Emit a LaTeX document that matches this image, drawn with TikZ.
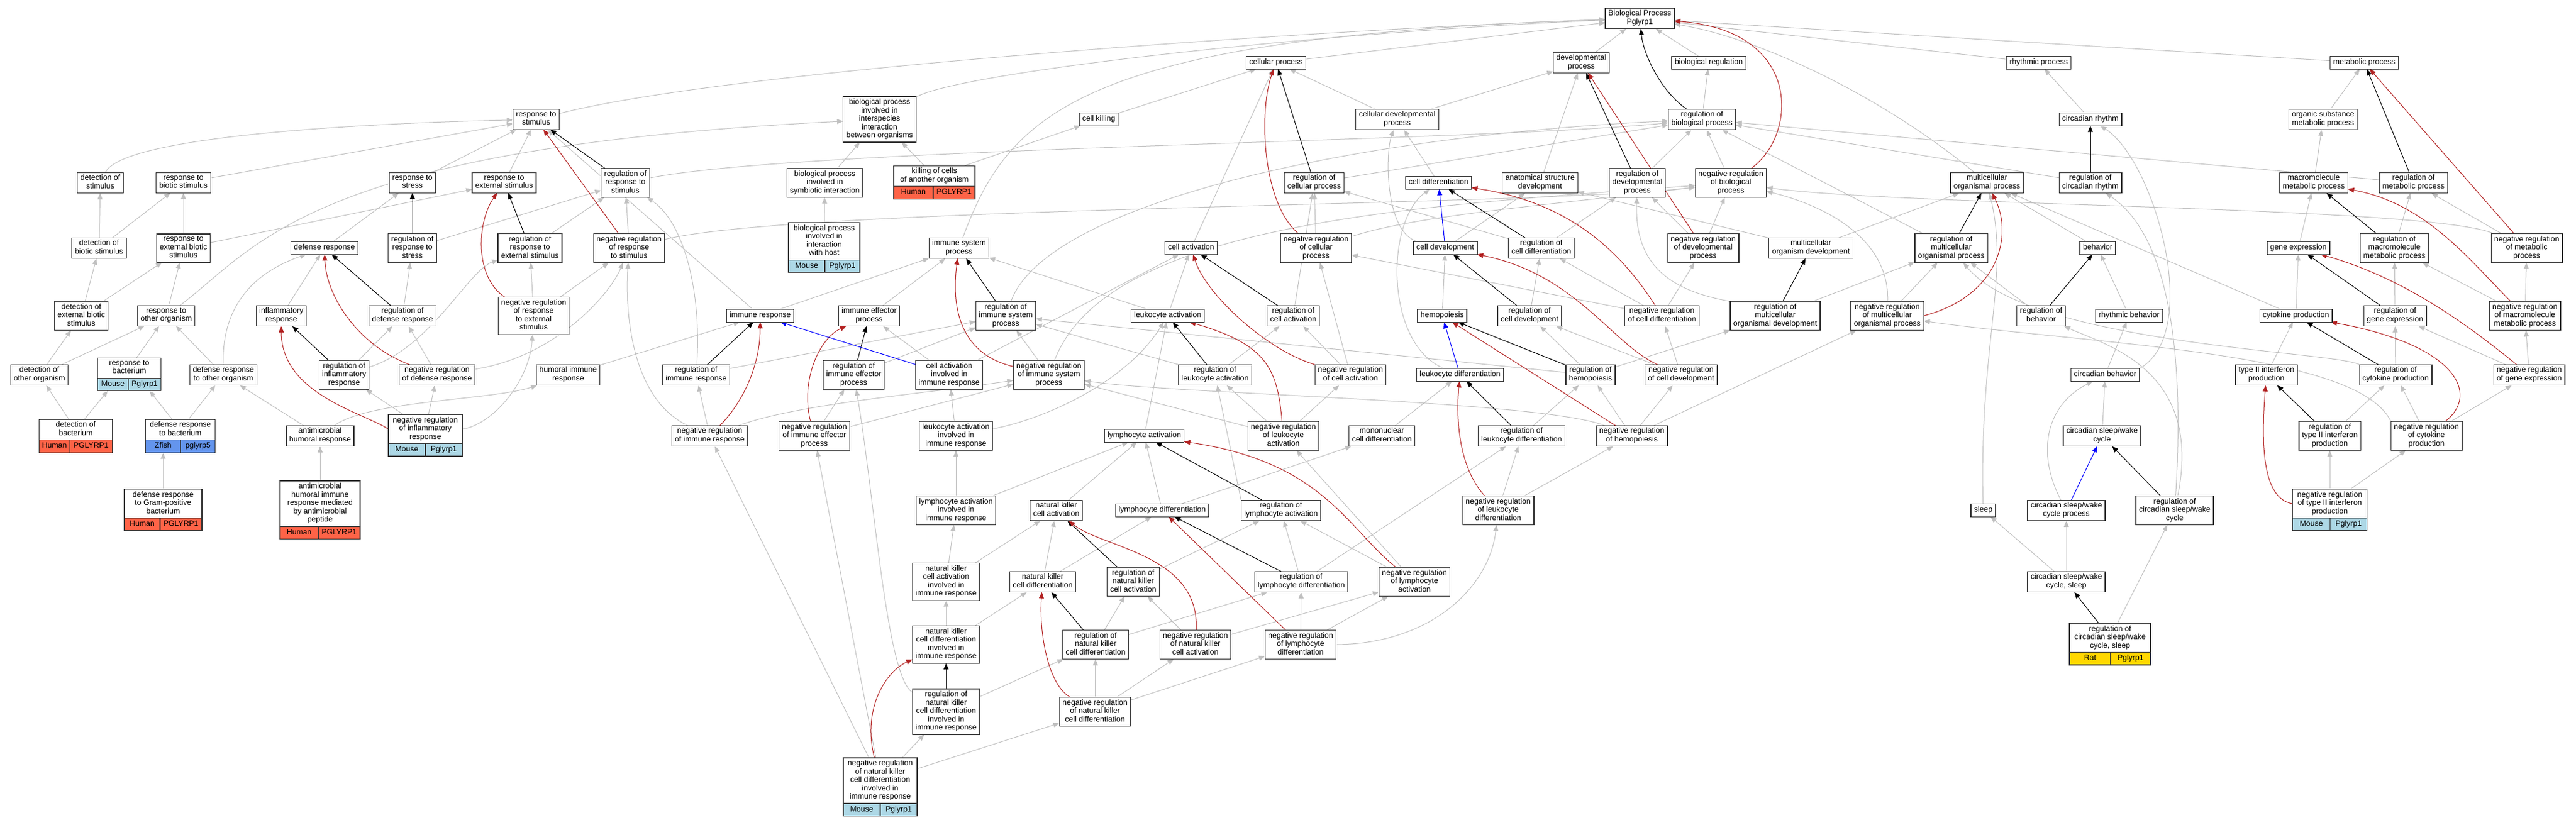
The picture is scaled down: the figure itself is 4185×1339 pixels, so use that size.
\documentclass[tikz,border=0pt]{standalone}
\usepackage{fontspec}
\setmainfont{Liberation Sans}
\usetikzlibrary{arrows.meta}
\pgfdeclarelayer{edgelayer}
\pgfsetlayers{edgelayer,main}
\definecolor{isagrey}{RGB}{192,192,192}
\definecolor{negred}{RGB}{178,34,34}
\definecolor{partblue}{RGB}{0,0,255}
\definecolor{human}{RGB}{255,99,71}
\definecolor{mouse}{RGB}{173,216,230}
\definecolor{zfish}{RGB}{100,149,237}
\definecolor{rat}{RGB}{255,215,0}

\begin{document}
\begin{tikzpicture}
        [
          x=1pt, y=-1pt,
          term/.style={draw=black!80, line width=1.3pt, fill=white, align=center,
            inner xsep=5pt, inner ysep=3.5pt, outer sep=0pt,
            font=\fontsize{12.5}{13.5}\selectfont,
            execute at begin node=\strut, execute at end node=\strut},
          cell/.style={term, inner xsep=3pt},
          isa/.style={draw=isagrey, line width=1pt, -{Triangle[length=10pt,width=8pt]}},
          regs/.style={isa, draw=black},
          negregs/.style={isa, draw=negred},
          partof/.style={isa, draw=partblue}
        ]
        \useasboundingbox (0,0) rectangle (4185,1339);
        % rank 1
        \node [term] (bp) at (2664,30) {Biological Process\\Pglyrp1};
        % rank 2
        \node [term] (cp) at (2073,102) {cellular process};
        \node [term] (dp) at (2569,102) {developmental\\process};
        \node [term] (breg) at (2776,102) {biological regulation};
        \node [term] (rp) at (3312,102) {rhythmic process};
        \node [term] (mp) at (3841,102) {metabolic process};
        % rank 3
        \node [term] (rs) at (871,194) {response to\\stimulus};
        \node [term] (bpii) at (1429,194) {biological process\\involved in\\interspecies\\interaction\\between organisms};
        \node [term] (ck) at (1785,194) {cell killing};
        \node [term] (cdp) at (2270,194) {cellular developmental\\process};
        \node [term] (rbp) at (2765,194) {regulation of\\biological process};
        \node [term] (cr) at (3396,194) {circadian rhythm};
        \node [term] (osmp) at (3774,194) {organic substance\\metabolic process};
        % rank 4
        \node [term] (ds) at (163,297) {detection of\\stimulus};
        \node [term] (rbs) at (298,297) {response to\\biotic stimulus};
        \node [term] (rstr) at (670,297) {response to\\stress};
        \node [term] (res) at (819,297) {response to\\external stimulus};
        \node [term] (rrs) at (1016,297) {regulation of\\response to\\stimulus};
        \node [term] (bpsi) at (1340,297) {biological process\\involved in\\symbiotic interaction};
        \node [term, minimum width=132] (kcao) at (1518,286) {killing of cells\\of another organism};
        \node [term] (rcp) at (2135,297) {regulation of\\cellular process};
        \node [term] (cd) at (2337,297) {cell differentiation};
        \node [term] (asd) at (2502,297) {anatomical structure\\development};
        \node [term] (rdp) at (2660,297) {regulation of\\developmental\\process};
        \node [term] (nrbp) at (2812,297) {negative regulation\\of biological\\process};
        \node [term] (mop) at (3228,297) {multicellular\\organismal process};
        \node [term] (rcr) at (3396,297) {regulation of\\circadian rhythm};
        \node [term] (mmp) at (3759,297) {macromolecule\\metabolic process};
        \node [term] (rmp) at (3921,297) {regulation of\\metabolic process};
        % rank 5
        \node [term] (dbs) at (161,403) {detection of\\biotic stimulus};
        \node [term] (rebs) at (298,403) {response to\\external biotic\\stimulus};
        \node [term] (dr) at (527,403) {defense response};
        \node [term] (rrstr) at (670,403) {regulation of\\response to\\stress};
        \node [term] (rres) at (861,403) {regulation of\\response to\\external stimulus};
        \node [term] (nrrs) at (1022,403) {negative regulation\\of response\\to stimulus};
        \node [term, minimum width=116] (bpih) at (1339,392) {biological process\\involved in\\interaction\\with host};
        \node [term] (isp) at (1558,403) {immune system\\process};
        \node [term] (ca) at (1935,403) {cell activation};
        \node [term] (nrcp) at (2138,403) {negative regulation\\of cellular\\process};
        \node [term] (cdev) at (2348,403) {cell development};
        \node [term] (rcd) at (2504,403) {regulation of\\cell differentiation};
        \node [term] (nrdp) at (2767,403) {negative regulation\\of developmental\\process};
        \node [term] (mod) at (2942,403) {multicellular\\organism development};
        \node [term] (rmop) at (3170,403) {regulation of\\multicellular\\organismal process};
        \node [term] (beh) at (3408,403) {behavior};
        \node [term] (ge) at (3734,403) {gene expression};
        \node [term] (rmmp) at (3890,403) {regulation of\\macromolecule\\metabolic process};
        \node [term] (nrmp) at (4105,403) {negative regulation\\of metabolic\\process};
        % rank 6
        \node [term] (debs) at (132,513) {detection of\\external biotic\\stimulus};
        \node [term] (roo) at (270,513) {response to\\other organism};
        \node [term] (ir) at (457,513) {inflammatory\\response};
        \node [term] (rdr) at (654,513) {regulation of\\defense response};
        \node [term] (nrres) at (867,513) {negative regulation\\of response\\to external\\stimulus};
        \node [term] (imr) at (1235,513) {immune response};
        \node [term] (iep) at (1412,513) {immune effector\\process};
        \node [term] (risp) at (1634,513) {regulation of\\immune system\\process};
        \node [term] (la) at (1897,513) {leukocyte activation};
        \node [term] (rca) at (2101,513) {regulation of\\cell activation};
        \node [term] (hem) at (2343,513) {hemopoiesis};
        \node [term] (rcdev) at (2485,513) {regulation of\\cell development};
        \node [term] (nrcd) at (2700,513) {negative regulation\\of cell differentiation};
        \node [term] (rmod) at (2884,513) {regulation of\\multicellular\\organismal development};
        \node [term] (nrmop) at (3066,513) {negative regulation\\of multicellular\\organismal process};
        \node [term] (rbeh) at (3316,513) {regulation of\\behavior};
        \node [term] (rbehv) at (3459,513) {rhythmic behavior};
        \node [term] (cyp) at (3730,513) {cytokine production};
        \node [term] (rge) at (3891,513) {regulation of\\gene expression};
        \node [term] (nrmmp) at (4102,513) {negative regulation\\of macromolecule\\metabolic process};
        % rank 7
        \node [term] (doo) at (64,609) {detection of\\other organism};
        \node [term, minimum width=103] (rbact) at (210,598) {response to\\bacterium};
        \node [term] (droo) at (363,609) {defense response\\to other organism};
        \node [term] (rir) at (559,609) {regulation of\\inflammatory\\response};
        \node [term] (nrdr) at (710,609) {negative regulation\\of defense response};
        \node [term] (hir) at (923,609) {humoral immune\\response};
        \node [term] (rimr) at (1131,609) {regulation of\\immune response};
        \node [term] (riep) at (1387,609) {regulation of\\immune effector\\process};
        \node [term] (caiir) at (1542,609) {cell activation\\involved in\\immune response};
        \node [term] (nrisp) at (1704,609) {negative regulation\\of immune system\\process};
        \node [term] (rla) at (1974,609) {regulation of\\leukocyte activation};
        \node [term] (nrca) at (2194,609) {negative regulation\\of cell activation};
        \node [term] (ld) at (2372,609) {leukocyte differentiation};
        \node [term] (rhem) at (2584,609) {regulation of\\hemopoiesis};
        \node [term] (nrcdev) at (2731,609) {negative regulation\\of cell development};
        \node [term] (cbeh) at (3420,609) {circadian behavior};
        \node [term] (t2ip) at (3682,609) {type II interferon\\production};
        \node [term] (rcyp) at (3892,609) {regulation of\\cytokine production};
        \node [term] (nrge) at (4109,609) {negative regulation\\of gene expression};
        % rank 8
        \node [term, minimum width=119] (dbact) at (123,698) {detection of\\bacterium};
        \node [term, minimum width=113] (drbact) at (293,698) {defense response\\to bacterium};
        \node [term] (ahr) at (520,708) {antimicrobial\\humoral response};
        \node [term, minimum width=120] (nrir) at (691,697) {negative regulation\\of inflammatory\\response};
        \node [term] (nrimr) at (1153,708) {negative regulation\\of immune response};
        \node [term] (nriep) at (1323,708) {negative regulation\\of immune effector\\process};
        \node [term] (laiir) at (1553,708) {leukocyte activation\\involved in\\immune response};
        \node [term] (lya) at (1859,708) {lymphocyte activation};
        \node [term] (nrla) at (2085,708) {negative regulation\\of leukocyte\\activation};
        \node [term] (mcd) at (2245,708) {mononuclear\\cell differentiation};
        \node [term] (rld) at (2472,708) {regulation of\\leukocyte differentiation};
        \node [term] (nrhem) at (2651,708) {negative regulation\\of hemopoiesis};
        \node [term] (cswc) at (3415,708) {circadian sleep/wake\\cycle};
        \node [term] (rt2ip) at (3785,708) {regulation of\\type II interferon\\production};
        \node [term] (nrcyp) at (3942,708) {negative regulation\\of cytokine\\production};
        % rank 9
        \node [term, minimum width=126] (drgp) at (265,818) {defense response\\to Gram-positive\\bacterium};
        \node [term, minimum width=130] (ahirmap) at (520,818) {antimicrobial\\humoral immune\\response mediated\\by antimicrobial\\peptide};
        \node [term] (lyaiir) at (1553,829) {lymphocyte activation\\involved in\\immune response};
        \node [term] (nkca) at (1716,829) {natural killer\\cell activation};
        \node [term] (lyd) at (1888,829) {lymphocyte differentiation};
        \node [term] (rlya) at (2081,829) {regulation of\\lymphocyte activation};
        \node [term] (nrld) at (2434,829) {negative regulation\\of leukocyte\\differentiation};
        \node [term] (sl) at (3222,829) {sleep};
        \node [term] (cswcp) at (3357,829) {circadian sleep/wake\\cycle process};
        \node [term] (rcswc) at (3533,829) {regulation of\\circadian sleep/wake\\cycle};
        \node [term, minimum width=121] (nrt2ip) at (3785,818) {negative regulation\\of type II interferon\\production};
        % rank 10
        \node [term] (nkcaiir) at (1537,945) {natural killer\\cell activation\\involved in\\immune response};
        \node [term] (nkcd) at (1694,945) {natural killer\\cell differentiation};
        \node [term] (rnkca) at (1841,945) {regulation of\\natural killer\\cell activation};
        \node [term] (rlyd) at (2114,945) {regulation of\\lymphocyte differentiation};
        \node [term] (nrlya) at (2298,945) {negative regulation\\of lymphocyte\\activation};
        \node [term] (cswcs) at (3357,945) {circadian sleep/wake\\cycle, sleep};
        % rank 11
        \node [term] (nkcdiir) at (1537,1047) {natural killer\\cell differentiation\\involved in\\immune response};
        \node [term] (rnkcd) at (1780,1047) {regulation of\\natural killer\\cell differentiation};
        \node [term] (nrnkca) at (1942,1047) {negative regulation\\of natural killer\\cell activation};
        \node [term] (nrlyd) at (2113,1047) {negative regulation\\of lymphocyte\\differentiation};
        \node [term, minimum width=132] (rcswcs) at (3428,1036) {regulation of\\circadian sleep/wake\\cycle, sleep};
        % rank 12
        \node [term] (rnkcdiir) at (1537,1156) {regulation of\\natural killer\\cell differentiation\\involved in\\immune response};
        \node [term] (nrnkcd) at (1779,1156) {negative regulation\\of natural killer\\cell differentiation};
        % rank 13
        \node [term, minimum width=120] (nrnkcdiir) at (1430,1268) {negative regulation\\of natural killer\\cell differentiation\\involved in\\immune response};
        % species / gene rows
        \foreach \n/\col/\spc/\gen/\cw/\gw in {kcao/human/Human/PGLYRP1/64/68, bpih/mouse/Mouse/Pglyrp1/59/57,
            rbact/mouse/Mouse/Pglyrp1/50/53, dbact/human/Human/PGLYRP1/50/69, drbact/zfish/Zfish/pglyrp5/57/56,
            nrir/mouse/Mouse/Pglyrp1/60/60, drgp/human/Human/PGLYRP1/58/68, ahirmap/human/Human/PGLYRP1/62/68,
            nrt2ip/mouse/Mouse/Pglyrp1/61/60, rcswcs/rat/Rat/Pglyrp1/67/65, nrnkcdiir/mouse/Mouse/Pglyrp1/60/60} {
          \node [cell, fill=\col, anchor=north west, minimum width=\cw] (\n-sp) at (\n.south west) {\spc};
          \node [cell, fill=\col, anchor=north east, minimum width=\gw] (\n-gn) at (\n.south east) {\gen};
        }
        \begin{pgfonlayer}{edgelayer}
        % is_a edges
        \foreach \a/\b in {cp/bp, dp/bp, breg/bp, rp/bp, mp/bp,
            ck/cp, cdp/cp, cdp/dp, rbp/breg, cr/rp, osmp/mp,
            rbs/rs, rstr/rs, res/rs, imr/rs,
            bpsi/bpii, kcao/ck, kcao/bpii,
            rcp/rbp, rdp/rbp, nrbp/rbp, rcr/rbp, rmp/rbp, rmop/rbp,
            cd/cdp, cdev/asd, asd/dp, mod/asd, mod/mop,
            mmp/osmp, ge/mmp, rmmp/rmp, nrmp/rmp,
            dbs/ds, dbs/rbs, rebs/rbs, rebs/res, dr/rstr, rrstr/rrs, rres/rrs, nrrs/rrs,
            bpih/bpsi, ca/cp, nrcp/rcp, rcd/rdp, rcd/rcp, nrdp/rdp, nrdp/nrbp,
            beh/mop, cyp/ge, cyp/mop, rge/rmmp, nrmmp/rmmp, nrmmp/nrmp,
            debs/dbs, debs/rebs, roo/rebs, ir/dr, rdr/rrstr, nrres/rres, nrres/nrrs,
            imr/isp, iep/isp, la/isp, la/ca, rca/rcp, hem/cdev, rcdev/rcd, nrcd/rcd, nrcd/nrdp, nrcd/nrcp,
            rmod/rmop, nrmop/rmop, rbeh/rmop, rbehv/beh,
            doo/debs, doo/roo, rbact/roo, droo/roo, rir/rdr, nrdr/rdr,
            hir/imr, rimr/risp, riep/risp, caiir/ca, caiir/iep, nrisp/risp,
            rla/rca, rla/risp, nrca/rca, nrca/nrcp, rhem/rcdev, rhem/rmod, rhem/risp, nrcdev/rcdev, nrcdev/nrcd,
            cbeh/rbehv, t2ip/cyp, rcyp/rge, nrge/rge, nrge/nrmmp,
            dbact/doo, dbact/rbact-sp, drbact/rbact-gn, drbact/droo, ahr/droo, nrir/rir, nrir/nrdr,
            nrimr/rimr, nriep/riep, nriep/nrisp, laiir/caiir, lya/la,
            nrla/rla, nrla/nrca, nrla/nrisp, mcd/ld, rld/rhem, nrhem/rhem, nrhem/nrcdev, nrhem/nrmop,
            cswc/cbeh, rt2ip/rcyp, nrcyp/rcyp, nrcyp/nrge,
            drgp/drbact-sp, ahirmap/ahr, lyaiir/laiir, lyaiir/lya, nkca/lya, lyd/lya, lyd/mcd, nrld/rld, nrld/nrhem,
            nrt2ip/rt2ip, nrt2ip/nrcyp,
            nkcaiir/lyaiir, nkcaiir/nkca, nkcd/nkca, nkcd/lyd, rnkca/rlya, rlyd/rlya, rlyd/rld, nrlya/rlya, nrlya/nrla,
            cswcs/cswcp, cswcs/sl,
            nkcdiir/nkcaiir, nkcdiir/nkcd, rnkcd/rnkca, rnkcd/rlyd, nrnkca/rnkca, nrnkca/nrlya,
            nrlyd/rlyd, nrlyd/nrlya, rcswcs/rcswc,
            rnkcdiir/rnkcd, nrnkcd/rnkcd, nrnkcd/nrnkca, nrnkcd/nrlyd,
            nrnkcdiir/rnkcdiir, nrnkcdiir/nrnkcd, nrnkcdiir/nrimr, nrnkcdiir/nriep} {
          \draw [isa] (\a) -- (\b);
        }
        \draw [isa] (rs) .. controls (1200,110) and (2200,45) .. (bp);
        \draw [isa] (bpii) .. controls (1550,120) and (2100,55) .. (bp);
        \draw [isa] (isp) .. controls (1640,180) and (1760,60) .. (bp);
        \draw [isa] (mop) .. controls (3050,150) and (2850,60) .. (bp);
        \draw [isa] (ds) .. controls (200,220) and (600,200) .. (rs);
        \draw [isa] (roo) .. controls (420,400) and (500,240) .. (bpii);
        \draw [isa] (droo) .. controls (360,490) and (420,440) .. (dr);
        \draw [isa] (ahr) .. controls (600,650) and (800,650) .. (hir);
        \draw [isa] (rir) .. controls (700,565) and (760,440) .. (rres);
        \draw [isa] (nrdr) .. controls (900,580) and (990,480) .. (nrrs);
        \draw [isa] (nrir.east) .. controls (800,690) and (860,620) .. (nrres);
        \draw [isa] (rimr) .. controls (1140,470) and (1110,360) .. (rrs);
        \draw [isa] (nrimr) .. controls (1030,650) and (1015,520) .. (nrrs);
        \draw [isa] (nrimr) .. controls (1300,655) and (1500,640) .. (nrisp);
        \draw [isa] (rrs) .. controls (1300,240) and (2400,230) .. (rbp);
        \draw [isa] (risp) .. controls (1700,330) and (2200,220) .. (rbp);
        \draw [isa] (nrrs) .. controls (1300,335) and (2500,335) .. (nrbp);
        \draw [isa] (nrisp) .. controls (1800,360) and (2300,335) .. (nrbp);
        \draw [isa] (nrcp) .. controls (2300,350) and (2500,335) .. (nrbp);
        \draw [isa] (nrmp) .. controls (3950,335) and (3100,335) .. (nrbp);
        \draw [isa] (nrhem) .. controls (2500,650) and (1900,640) .. (nrisp);
        \draw [isa] (laiir) .. controls (1700,680) and (1830,620) .. (la);
        \draw [isa] (ld) .. controls (2250,560) and (2250,360) .. (cd);
        \draw [isa] (cdev) .. controls (2250,380) and (2250,250) .. (cdp);
        \draw [isa] (rmod.north west) .. controls (2700,470) and (2656,420) .. (rdp);
        \draw [isa] (nrmop) .. controls (3070,380) and (2950,330) .. (nrbp);
        \draw [isa] (sl) .. controls (3215,560) and (3265,450) .. (mop);
        \draw [isa] (cbeh.north east) .. controls (3580,540) and (3500,260) .. (cr);
        \draw [isa] (rcswc) .. controls (3550,560) and (3520,380) .. (rcr);
        \draw [isa] (rcswc) .. controls (3580,600) and (3420,560) .. (rbeh);
        \draw [isa] (cswcp) .. controls (3310,740) and (3320,660) .. (cbeh);
        \draw [isa] (nrcyp.north west) .. controls (3830,570) and (3400,560) .. (nrmop);
        \draw [isa] (rcyp.north west) .. controls (3790,570) and (3300,560) .. (rmop);
        \draw [isa] (rlya.north west) -- (rla);
        \draw [isa] (nrlyd.east) .. controls (2330,1045) and (2420,950) .. (nrld);
        \draw [isa] (rnkcdiir) .. controls (1440,1100) and (1420,800) .. (riep);
        % regulates edges
        \foreach \a/\b in {rrs/rs, rcp/cp, rdp/dp, rcr/cr, rmp/mp, rrstr/rstr, rres/res, rcd/cd,
            rmop/mop, rmmp/mmp, rdr/dr, risp/isp, rca/ca, rcdev/cdev, rmod/mod, rbeh/beh, rge/ge,
            rir/ir, rimr/imr, riep/iep, rla/la, rhem/hem, rcyp/cyp, rld/ld, rt2ip/t2ip, rlya/lya,
            rcswc/cswc, rnkca/nkca, rlyd/lyd, rcswcs/cswcs, rnkcd/nkcd, rnkcdiir/nkcdiir} {
          \draw [regs] (\a) -- (\b);
        }
        \draw [regs] (rbp) .. controls (2700,150) and (2670,90) .. (bp);
        % negatively regulates edges
        \foreach \a/\b in {nrrs/rs, nrdp/dp, nrmp/mp, nrhem/hem, nrlyd/lyd} {
          \draw [negregs] (\a) -- (\b);
        }
        \draw [negregs] (nrbp) .. controls (2920,220) and (2930,50) .. (bp);
        \draw [negregs] (nrcp) .. controls (2050,330) and (2045,180) .. (cp);
        \draw [negregs] (nrdr) .. controls (580,560) and (530,480) .. (dr);
        \draw [negregs] (nrir.west) .. controls (590,670) and (457,640) .. (ir);
        \draw [negregs] (nrres) .. controls (770,450) and (775,360) .. (res);
        \draw [negregs] (nrimr) .. controls (1210,650) and (1235,590) .. (imr);
        \draw [negregs] (nriep) .. controls (1300,620) and (1330,550) .. (iep);
        \draw [negregs] (nrisp) .. controls (1560,575) and (1545,500) .. (isp);
        \draw [negregs] (nrca) .. controls (2060,570) and (1960,480) .. (ca);
        \draw [negregs] (nrla) .. controls (2075,600) and (2060,560) .. (la);
        \draw [negregs] (nrcdev) .. controls (2620,560) and (2560,445) .. (cdev);
        \draw [negregs] (nrcd) .. controls (2640,420) and (2560,330) .. (cd);
        \draw [negregs] (nrmop.east) .. controls (3250,480) and (3270,380) .. (mop);
        \draw [negregs] (nrmmp) .. controls (4010,420) and (3940,330) .. (mmp);
        \draw [negregs] (nrge) .. controls (4000,520) and (3900,450) .. (ge);
        \draw [negregs] (nrcyp) .. controls (4030,640) and (3990,560) .. (cyp);
        \draw [negregs] (nrt2ip.west) .. controls (3670,810) and (3675,700) .. (t2ip);
        \draw [negregs] (nrld) .. controls (2370,760) and (2365,680) .. (ld);
        \draw [negregs] (nrlya) .. controls (2190,860) and (2150,750) .. (lya);
        \draw [negregs] (nrnkca) .. controls (1950,900) and (1790,890) .. (nkca);
        \draw [negregs] (nrnkcd) .. controls (1700,1110) and (1688,1020) .. (nkcd);
        \draw [negregs] (nrnkcdiir) .. controls (1400,1150) and (1440,1090) .. (nkcdiir);
        % part_of edges
        \foreach \a/\b in {cdev/cd, ld/hem, caiir/imr, cswcp/cswc} {
          \draw [partof] (\a) -- (\b);
        }
        \end{pgfonlayer}
\end{tikzpicture}
\end{document}
